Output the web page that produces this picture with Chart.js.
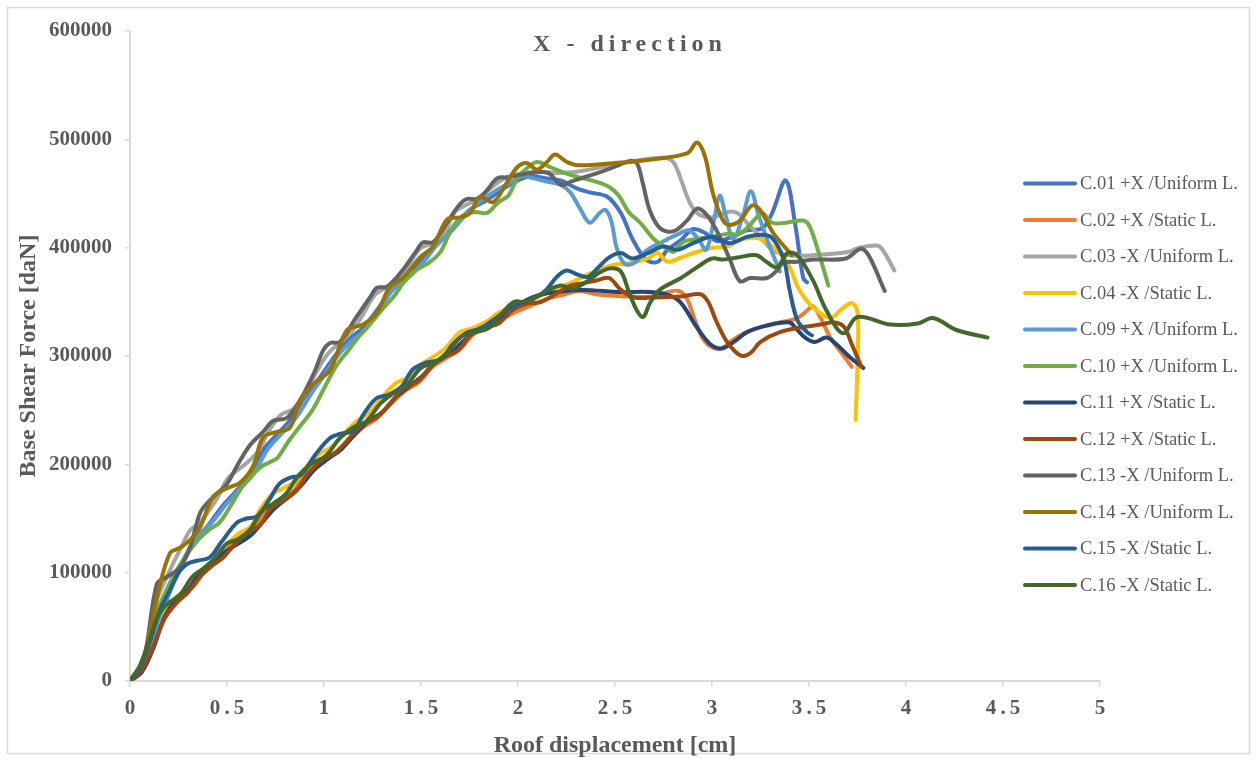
<!DOCTYPE html>
<html lang="en">
<head>
    <meta charset="UTF-8">
    <title>X - direction</title>
    <script src="https://cdn.jsdelivr.net/npm/chart.js"></script>
    <style>
        html, body { margin: 0; padding: 0; background: #fff; }
        #wrap { width: 1257px; height: 761px; }
    </style>
</head>
<body>
    <div id="wrap">
        <canvas id="pushoverChart" width="1257" height="761"></canvas>
    </div>

    <script>
        // Series labels and colours (legend order)
        const seriesLabels = [
            'C.01 +X /Uniform L.', 'C.02 +X /Static L.', 'C.03 -X /Uniform L.', 'C.04 -X /Static L.',
            'C.09 +X /Uniform L.', 'C.10 +X /Uniform L.', 'C.11 +X /Static L.', 'C.12 +X /Static L.',
            'C.13 -X /Uniform L.', 'C.14 -X /Uniform L.', 'C.15 -X /Static L.', 'C.16 -X /Static L.'
        ];
        const seriesColors = [
            '#4472C4', '#ED7D31', '#A5A5A5', '#FFC000',
            '#5B9BD5', '#70AD47', '#264478', '#9E480E',
            '#636363', '#997300', '#255E91', '#43682B'
        ];

        // Axis ticks
        const xTicks = [0, 0.5, 1, 1.5, 2, 2.5, 3, 3.5, 4, 4.5, 5];
        const yTicks = [0, 100000, 200000, 300000, 400000, 500000, 600000];

        // Curves: [roof displacement (cm), base shear (daN)]
        const c01 = [[0,0],[0.07,14000],[0.14,48000],[0.2,80000],[0.26,104000],[0.32,126000],[0.4,143000],[0.47,160000],[0.54,174000],[0.61,188000],[0.68,212000],[0.75,226000],[0.83,242000],[0.9,262000],[0.97,278000],[1.04,296000],[1.12,314000],[1.2,326000],[1.28,344000],[1.36,364000],[1.44,374000],[1.52,393000],[1.6,406000],[1.68,422000],[1.76,436000],[1.84,444000],[1.92,454000],[2.0,462000],[2.06,466000],[2.14,464000],[2.22,462000],[2.3,455000],[2.37,451000],[2.46,447000],[2.53,432000],[2.59,408000],[2.66,389000],[2.72,387000],[2.77,398000],[2.84,407000],[2.9,417000],[2.96,414000],[3.03,406000],[3.1,410000],[3.18,416000],[3.26,418000],[3.31,432000],[3.38,462000],[3.43,420000],[3.47,372000],[3.49,368000]];
        const c02 = [[0,0],[0.05,10000],[0.1,28000],[0.16,55000],[0.22,72000],[0.28,80000],[0.34,90000],[0.4,106000],[0.46,113000],[0.52,126000],[0.58,137000],[0.64,143000],[0.7,158000],[0.77,166000],[0.84,175000],[0.9,190000],[0.97,200000],[1.04,208000],[1.12,220000],[1.2,234000],[1.27,242000],[1.34,255000],[1.42,268000],[1.49,276000],[1.56,290000],[1.63,298000],[1.7,306000],[1.77,320000],[1.84,326000],[1.9,332000],[1.98,340000],[2.06,346000],[2.14,352000],[2.22,356000],[2.32,360000],[2.4,357000],[2.55,355000],[2.7,355000],[2.77,359000],[2.83,360000],[2.87,353000],[2.91,334000],[2.95,317000],[3.0,308000],[3.05,307000],[3.1,314000],[3.18,322000],[3.3,329000],[3.44,335000],[3.49,342000],[3.52,346000],[3.56,335000],[3.61,317000],[3.68,300000],[3.72,290000]];
        const c03 = [[0,0],[0.07,20000],[0.14,75000],[0.2,100000],[0.26,122000],[0.31,139000],[0.36,146000],[0.41,158000],[0.46,172000],[0.5,186000],[0.55,194000],[0.6,201000],[0.66,212000],[0.72,232000],[0.78,246000],[0.84,251000],[0.9,265000],[0.96,285000],[1.02,302000],[1.08,312000],[1.14,322000],[1.2,338000],[1.26,356000],[1.32,363000],[1.38,368000],[1.44,385000],[1.5,400000],[1.56,404000],[1.62,414000],[1.68,434000],[1.74,440000],[1.8,446000],[1.86,455000],[1.92,463000],[2.0,468000],[2.1,470000],[2.2,469000],[2.3,470000],[2.45,475000],[2.6,480000],[2.75,483000],[2.8,479000],[2.84,463000],[2.87,448000],[2.9,437000],[2.94,430000],[3.0,428000],[3.08,433000],[3.13,432000],[3.18,423000],[3.25,410000],[3.31,398000],[3.4,393000],[3.52,393000],[3.7,396000],[3.76,400000],[3.85,402000],[3.88,398000],[3.94,379000]];
        const c04 = [[0,0],[0.05,11000],[0.1,30000],[0.16,57000],[0.22,74000],[0.28,84000],[0.33,97000],[0.38,104000],[0.44,112000],[0.5,126000],[0.56,136000],[0.62,142000],[0.67,158000],[0.73,172000],[0.79,178000],[0.85,184000],[0.91,198000],[0.98,210000],[1.04,216000],[1.1,228000],[1.17,240000],[1.23,247000],[1.3,262000],[1.37,275000],[1.43,280000],[1.5,292000],[1.57,300000],[1.63,308000],[1.7,322000],[1.77,326000],[1.84,332000],[1.9,340000],[1.97,345000],[2.05,350000],[2.12,356000],[2.18,362000],[2.25,366000],[2.37,376000],[2.49,384000],[2.59,386000],[2.67,390000],[2.72,395000],[2.77,387000],[2.84,391000],[2.92,396000],[3.0,400000],[3.08,401000],[3.14,407000],[3.23,409000],[3.28,405000],[3.35,395000],[3.4,382000],[3.45,361000],[3.52,345000],[3.61,335000],[3.66,342000],[3.72,349000],[3.75,340000],[3.75,293000],[3.74,241000]];
        const c09 = [[0,0],[0.08,18000],[0.15,58000],[0.21,85000],[0.27,110000],[0.34,132000],[0.42,146000],[0.5,164000],[0.57,178000],[0.64,192000],[0.71,214000],[0.78,228000],[0.86,244000],[0.93,264000],[1.0,282000],[1.06,298000],[1.13,312000],[1.2,322000],[1.28,340000],[1.35,360000],[1.42,370000],[1.5,384000],[1.58,402000],[1.65,414000],[1.72,428000],[1.8,442000],[1.88,452000],[1.96,460000],[2.02,466000],[2.08,464000],[2.15,461000],[2.22,458000],[2.27,451000],[2.32,436000],[2.37,423000],[2.42,432000],[2.45,435000],[2.48,425000],[2.51,399000],[2.55,385000],[2.6,386000],[2.66,397000],[2.74,405000],[2.82,412000],[2.88,416000],[2.93,408000],[2.97,398000],[3.01,425000],[3.04,448000],[3.07,430000],[3.11,408000],[3.16,430000],[3.2,452000],[3.24,430000],[3.3,400000],[3.35,378000]];
        const c10 = [[0,0],[0.07,18000],[0.12,55000],[0.19,85000],[0.25,105000],[0.31,121000],[0.36,132000],[0.41,140000],[0.46,146000],[0.52,162000],[0.58,180000],[0.62,188000],[0.67,197000],[0.72,202000],[0.76,206000],[0.82,222000],[0.88,236000],[0.94,250000],[1.0,270000],[1.06,290000],[1.12,304000],[1.18,318000],[1.24,330000],[1.3,343000],[1.36,355000],[1.42,370000],[1.48,380000],[1.54,386000],[1.6,396000],[1.66,418000],[1.72,430000],[1.78,433000],[1.84,432000],[1.9,442000],[1.95,448000],[2.0,465000],[2.05,474000],[2.1,479000],[2.17,474000],[2.24,469000],[2.31,465000],[2.4,461000],[2.47,456000],[2.52,448000],[2.57,433000],[2.63,423000],[2.7,408000],[2.77,399000],[2.8,396000],[2.85,405000],[2.92,408000],[3.0,410000],[3.09,413000],[3.13,412000],[3.18,418000],[3.23,428000],[3.26,432000],[3.31,423000],[3.38,423000],[3.47,425000],[3.505,419000],[3.557,391000],[3.6,365000]];
        const c11 = [[0,0],[0.06,8000],[0.12,30000],[0.18,60000],[0.24,75000],[0.3,84000],[0.36,100000],[0.42,108000],[0.48,118000],[0.55,126000],[0.62,134000],[0.68,146000],[0.75,160000],[0.82,170000],[0.88,180000],[0.95,195000],[1.02,205000],[1.09,214000],[1.16,228000],[1.23,240000],[1.3,248000],[1.37,262000],[1.44,272000],[1.51,282000],[1.58,295000],[1.65,302000],[1.72,314000],[1.79,324000],[1.86,330000],[1.93,338000],[2.0,347000],[2.07,354000],[2.15,358000],[2.32,361000],[2.53,359000],[2.68,359000],[2.78,356000],[2.84,349000],[2.92,327000],[2.99,311000],[3.05,307000],[3.12,314000],[3.18,322000],[3.28,328000],[3.4,331000],[3.43,326000],[3.48,317000],[3.53,313000],[3.59,317000],[3.64,311000],[3.71,299000],[3.78,289000]];
        const c12 = [[0,0],[0.06,10000],[0.12,32000],[0.18,58000],[0.24,72000],[0.3,82000],[0.36,96000],[0.42,106000],[0.48,114000],[0.55,128000],[0.61,137000],[0.67,144000],[0.73,160000],[0.8,168000],[0.86,176000],[0.92,192000],[0.99,204000],[1.06,211000],[1.13,224000],[1.2,237000],[1.27,243000],[1.34,256000],[1.41,270000],[1.48,276000],[1.55,290000],[1.62,299000],[1.69,305000],[1.76,320000],[1.83,326000],[1.9,330000],[1.97,342000],[2.04,348000],[2.12,350000],[2.2,358000],[2.27,365000],[2.33,367000],[2.41,370000],[2.47,372000],[2.53,361000],[2.6,354000],[2.7,354000],[2.84,355000],[2.94,357000],[2.98,350000],[3.02,333000],[3.07,315000],[3.12,304000],[3.16,300000],[3.2,303000],[3.25,313000],[3.35,322000],[3.48,327000],[3.56,329000],[3.63,331000],[3.68,327000],[3.72,311000],[3.77,290000]];
        const c13 = [[0,0],[0.07,20000],[0.139,90000],[0.191,96000],[0.258,105000],[0.309,123000],[0.361,155000],[0.397,164000],[0.448,173000],[0.5,182000],[0.55,198000],[0.62,218000],[0.686,230000],[0.737,240000],[0.809,243000],[0.876,259000],[0.95,285000],[0.995,305000],[1.031,312000],[1.082,313000],[1.16,334000],[1.237,354000],[1.273,363000],[1.325,364000],[1.4,378000],[1.48,398000],[1.51,405000],[1.562,405000],[1.63,422000],[1.7,440000],[1.737,445000],[1.789,445000],[1.84,453000],[1.892,464000],[1.943,465000],[2.067,469000],[2.155,469000],[2.222,458000],[2.273,461000],[2.325,464000],[2.412,469000],[2.49,474000],[2.577,480000],[2.613,478000],[2.644,459000],[2.68,434000],[2.732,418000],[2.8,415000],[2.871,425000],[2.923,436000],[2.974,430000],[3.026,415000],[3.09,390000],[3.144,369000],[3.196,372000],[3.284,372000],[3.335,379000],[3.366,386000],[3.438,387000],[3.52,389000],[3.69,390000],[3.768,399000],[3.81,392000],[3.89,360000]];
        const c14 = [[0,0],[0.067,19000],[0.144,81000],[0.206,118000],[0.258,123000],[0.309,130000],[0.361,142000],[0.428,170000],[0.5,178000],[0.567,183000],[0.634,198000],[0.686,225000],[0.758,230000],[0.825,234000],[0.876,259000],[0.95,275000],[1.031,287000],[1.119,324000],[1.201,329000],[1.273,340000],[1.34,364000],[1.407,372000],[1.495,391000],[1.562,401000],[1.634,426000],[1.701,428000],[1.753,432000],[1.804,447000],[1.871,442000],[1.943,460000],[1.995,474000],[2.046,478000],[2.098,472000],[2.149,479000],[2.191,486000],[2.253,479000],[2.32,476000],[2.49,478000],[2.665,481000],[2.871,487000],[2.923,497000],[2.964,484000],[3.005,450000],[3.057,425000],[3.093,421000],[3.144,425000],[3.206,439000],[3.247,435000],[3.314,414000],[3.387,398000],[3.41,393000]];
        const c15 = [[0,0],[0.05,12000],[0.1,35000],[0.155,66000],[0.2,82000],[0.25,100000],[0.294,108000],[0.345,111000],[0.41,114000],[0.47,128000],[0.55,146000],[0.6,150000],[0.655,152000],[0.72,168000],[0.77,182000],[0.83,188000],[0.88,190000],[0.96,210000],[1.03,224000],[1.08,228000],[1.15,231000],[1.21,248000],[1.27,261000],[1.33,264000],[1.4,272000],[1.46,288000],[1.53,294000],[1.6,297000],[1.67,312000],[1.74,322000],[1.8,325000],[1.87,333000],[1.94,342000],[2.0,348000],[2.07,352000],[2.14,360000],[2.2,373000],[2.25,379000],[2.31,375000],[2.36,373000],[2.41,381000],[2.47,391000],[2.53,395000],[2.59,390000],[2.67,395000],[2.75,401000],[2.82,398000],[2.9,404000],[3.0,410000],[3.09,404000],[3.18,410000],[3.26,412000],[3.31,409000],[3.37,389000],[3.4,361000],[3.44,333000],[3.49,322000],[3.515,319000]];
        const c16 = [[0,0],[0.05,14000],[0.1,38000],[0.15,62000],[0.2,72000],[0.26,80000],[0.32,96000],[0.38,104000],[0.44,114000],[0.5,127000],[0.56,131000],[0.62,140000],[0.68,157000],[0.74,164000],[0.8,172000],[0.87,190000],[0.94,201000],[1.01,208000],[1.08,224000],[1.15,234000],[1.22,240000],[1.29,256000],[1.36,266000],[1.43,274000],[1.5,289000],[1.57,294000],[1.64,304000],[1.71,318000],[1.78,322000],[1.85,326000],[1.92,340000],[1.98,350000],[2.04,350000],[2.09,354000],[2.15,360000],[2.22,365000],[2.28,362000],[2.35,368000],[2.42,377000],[2.48,381000],[2.53,378000],[2.57,360000],[2.61,343000],[2.645,336000],[2.68,349000],[2.73,361000],[2.84,372000],[2.94,384000],[3.0,390000],[3.06,389000],[3.13,391000],[3.23,393000],[3.28,387000],[3.335,382000],[3.39,395000],[3.44,393000],[3.52,370000],[3.59,342000],[3.675,321000],[3.75,336000],[3.92,329000],[4.06,330000],[4.14,335000],[4.26,324000],[4.42,317000]];

        const seriesData = [c01, c02, c03, c04, c09, c10, c11, c12, c13, c14, c15, c16];

        const FONT = "'Liberation Serif', 'Times New Roman', serif";
        const TEXT = '#595959';
        const AXIS = '#d9d9d9';

        // White background + outer frame
        const framePlugin = {
            id: 'frame',
            beforeDraw(chart) {
                const ctx = chart.ctx;
                ctx.save();
                ctx.fillStyle = '#fff';
                ctx.fillRect(0, 0, chart.width, chart.height);
                ctx.strokeStyle = AXIS;
                ctx.lineWidth = 1.5;
                ctx.strokeRect(7.5, 7.5, chart.width - 15, chart.height - 15);
                ctx.restore();
            }
        };

        // Spaced-out title + legend on the right
        const decoPlugin = {
            id: 'deco',
            afterDraw(chart) {
                const ctx = chart.ctx;
                ctx.save();
                ctx.fillStyle = TEXT;
                ctx.font = 'bold 24px ' + FONT;
                ctx.letterSpacing = '5px';
                ctx.textAlign = 'center';
                ctx.textBaseline = 'middle';
                ctx.fillText('X - direction', 630, 45);
                ctx.letterSpacing = '0px';

                ctx.textAlign = 'left';
                ctx.font = '18.5px ' + FONT;
                chart.data.datasets.forEach(function(ds, i) {
                    const y = 183.5 + i * 36.5;
                    ctx.strokeStyle = ds.borderColor;
                    ctx.lineWidth = 4;
                    ctx.lineCap = 'round';
                    ctx.beginPath();
                    ctx.moveTo(1025, y);
                    ctx.lineTo(1075, y);
                    ctx.stroke();
                    ctx.fillStyle = TEXT;
                    ctx.fillText(ds.label, 1080, y + 1);
                });
                ctx.restore();
            }
        };

        const ctx = document.getElementById('pushoverChart').getContext('2d');
        const chart = new Chart(ctx, {
            type: 'scatter',
            data: {
                datasets: seriesLabels.map(function(label, i) {
                    return {
                        label: label,
                        data: seriesData[i].map(p => ({ x: p[0], y: p[1] })),
                        showLine: true,
                        borderColor: seriesColors[i],
                        backgroundColor: seriesColors[i],
                        borderWidth: 4,
                        borderCapStyle: 'round',
                        borderJoinStyle: 'round',
                        pointRadius: 0,
                        pointHoverRadius: 0,
                        tension: 0.35,
                        order: seriesLabels.length - i
                    };
                })
            },
            options: {
                responsive: false,
                devicePixelRatio: 1,
                animation: false,
                layout: { padding: { top: 31, right: 157, bottom: 0, left: 0 } },
                plugins: {
                    legend: { display: false },
                    title: { display: false },
                    tooltip: { enabled: false }
                },
                scales: {
                    x: {
                        type: 'linear',
                        min: 0,
                        max: 5,
                        afterFit: s => { s.height = 80; },
                        afterBuildTicks: s => { s.ticks = xTicks.map(v => ({ value: v })); },
                        grid: { drawOnChartArea: false, drawTicks: true, tickLength: 6, color: AXIS, lineWidth: 1.5 },
                        border: { display: true, color: AXIS, width: 2 },
                        ticks: {
                            color: TEXT,
                            font: { family: FONT, size: 21, weight: 'bold' },
                            padding: 9,
                            maxRotation: 0,
                            // Excel shows the decimals loosely spaced ("0 . 5")
                            callback: v => String(v).replace('.', '\u2009.\u2009')
                        },
                        title: {
                            display: true,
                            text: 'Roof displacement [cm]',
                            color: TEXT,
                            font: { family: FONT, size: 24, weight: 'bold' },
                            padding: { top: 0, bottom: 1 }
                        }
                    },
                    y: {
                        type: 'linear',
                        min: 0,
                        max: 600000,
                        afterFit: s => { s.width = 130; },
                        afterBuildTicks: s => { s.ticks = yTicks.map(v => ({ value: v })); },
                        grid: { drawOnChartArea: false, drawTicks: true, tickLength: 5, color: AXIS, lineWidth: 1.5 },
                        border: { display: true, color: AXIS, width: 2 },
                        ticks: {
                            color: TEXT,
                            font: { family: FONT, size: 21, weight: 'bold' },
                            padding: 13,
                            callback: v => String(v)
                        },
                        title: {
                            display: true,
                            text: 'Base Shear Force [daN]',
                            color: TEXT,
                            font: { family: FONT, size: 24, weight: 'bold' },
                            padding: { top: 14, bottom: 0 }
                        }
                    }
                }
            },
            plugins: [framePlugin, decoPlugin]
        });
    </script>
</body>
</html>
